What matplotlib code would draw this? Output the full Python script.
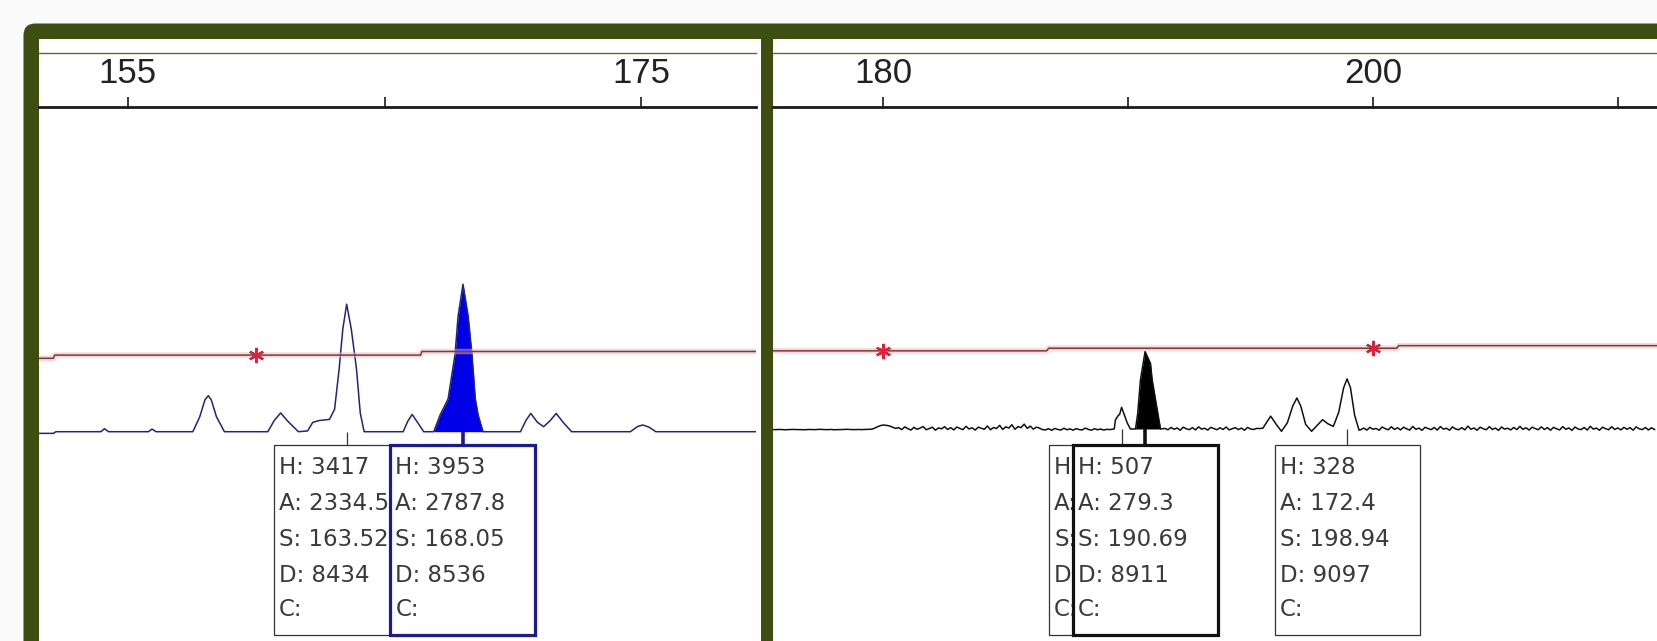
"""
Recreate the two-panel electropherogram view (peak scanner style):
left panel blue dye 151-179 bp, right panel black dye 175-212 bp,
with allele call boxes under the called peaks.
"""

import numpy as np
import matplotlib
matplotlib.use("Agg")
import matplotlib.pyplot as plt
from matplotlib.patches import Rectangle, FancyBboxPatch
from matplotlib.lines import Line2D

W, H = 1657, 641

# ---------------- data (bp, RFU) ----------------
LEFT_XLIM = (151.54, 179.46)
LEFT_TICKS = [155, 165, 175]
LEFT_TICK_LABELS = ["155", "", "175"]

LEFT_TRACE_BP = [151.54, 152.1, 152.2, 153.95, 154.09, 154.25, 155.8, 155.94, 156.1,
                 157.53, 157.8, 158.0, 158.13, 158.25, 158.45, 158.76,
                 160.45, 160.7, 160.95, 161.2, 161.64, 162.0, 162.2, 162.45, 162.85,
                 163.05, 163.23, 163.37, 163.52, 163.7, 163.9, 164.05, 164.2,
                 165.72, 165.9, 166.07, 166.25, 166.52,
                 166.91, 167.16, 167.47, 167.74, 167.86, 168.05, 168.25, 168.40, 168.53, 168.64, 168.83,
                 170.29, 170.5, 170.69, 170.95, 171.19, 171.45, 171.68, 171.95, 172.28,
                 174.57, 174.85, 175.05, 175.3, 175.56, 179.46]
LEFT_TRACE_RFU = [-45, -45, 0, 0, 80, 0, 0, 70, 0,
                  0, 400, 850, 966, 850, 400, 0,
                  0, 300, 504, 300, 0, 20, 250, 300, 330,
                  600, 1700, 2750, 3417, 2750, 1700, 500, 0,
                  0, 280, 462, 280, 0,
                  0, 450, 880, 2070, 3100, 3953, 3100, 2070, 880, 450, 0,
                  0, 300, 490, 250, 134, 300, 490, 250, 0,
                  0, 140, 180, 120, 0, 0]
LEFT_FILL_RANGE = (166.91, 168.83)

LEFT_RED_BP = [151.54, 152.1, 152.15, 166.4, 166.45, 179.46]
LEFT_RED_RFU = [1967, 1967, 2053, 2053, 2150, 2150]
LEFT_STARS_BP = [160]
LEFT_STARS_RFU = [2053]

# called peaks, left panel
LEFT_CALL_S = [163.52, 168.05]
LEFT_CALL_H = ["3417", "3953"]
LEFT_CALL_A = ["2334.5", "2787.8"]
LEFT_CALL_D = ["8434", "8536"]
LEFT_CALL_SEL = [False, True]

RIGHT_XLIM = (175.48, 211.6)
RIGHT_TICKS = [180, 190, 200, 210]
RIGHT_TICK_LABELS = ["180", "", "200", ""]

# baseline wiggle of the black trace, one value every NOISE_STEP bp
NOISE_STEP = 0.125
RIGHT_NOISE_A_START = 175.5
RIGHT_NOISE_A = [-4, -4, -3, -4, -5, -4, -3, -3, -4, -4, -5, -4, -3, -4, -4, -2, -3, -4, -4, -3,
                 -5, -4, -4, -3, -2, -3, -4, -4, -3, -4, -3, -2, -2,
                 4, 14, 22, 26, 24, 20, 12, 4,
                 9, -4, 14, 2, -7, 11, -2, 6, 16, -5, 3, 12, -8, 7, 1, 15, -3, 9, -6, 13,
                 4, -4, 18, 0, 8, -7, 12, 5, -2, 20, -5, 10, 3, 24, -3, 14, 6, 28, -2, 16,
                 9, 32, 4, 19, -1, 12, 6, -4,
                 -6, 2, -9, 4, -3, -7, 5, -5, 1, -8, 3, -4, -6, 6, -3, -8, 2, -5, 0, -7, -2, -4]
RIGHT_PEAKS_BP = [189.43, 189.48, 189.6, 189.65, 189.73, 189.85, 189.96, 190.09,
                  190.3, 190.39, 190.5, 190.61, 190.69, 190.91, 190.98, 191.21, 191.32]
RIGHT_PEAKS_RFU = [0, 60, 90, 95, 142, 90, 40, 0,
                   0, 103, 321, 430, 507, 430, 321, 103, 0]
RIGHT_NOISE_B_START = 191.5
RIGHT_NOISE_B = [4, -5, 10, -2, 7, -8, 12, 1, -4, 9, -6, 14, -1, 5, -7, 11, 3, -5, 8, -3,
                 13, -6, 2, 9, -4, 6, -8, 10, 0, -3, 4]
RIGHT_BUMPS_BP = [195.35, 195.5, 195.82, 196.05, 196.26, 196.5, 196.72, 196.89, 197.05, 197.25,
                  197.49, 197.7, 197.94, 198.15, 198.38, 198.6, 198.8, 198.94, 199.08, 199.25, 199.43]
RIGHT_BUMPS_RFU = [3, 5, 84, 30, -15, 40, 150, 203, 150, 30,
                   -15, 20, 61, 35, 17, 110, 270, 328, 270, 90, -8]
RIGHT_NOISE_C_START = 199.5
RIGHT_NOISE_C = [-4, 6, -7, 11, -2, 4, -8, 13, 2, -5, 15, -3, 8, -6, 12, 1, -7, 17, -2, 6,
                 -9, 11, 3, -4, 10, -7, 16, -1, 5, -8, 14, 0, -5, 9, -6, 19, -2, 7, -8, 12,
                 2, -5, 15, -3, 6, -9, 13, -1, 5, -6, 10, -4, 17, -2, 8, -7, 12, 3, -5, 14,
                 -3, 9, -8, 11, 1, -6, 16, -2, 7, -9, 13, 0, -4, 10, -7, 18, -1, 6, -8, 12,
                 2, -5, 15, -3, 7, -6, 11, -2, 9, -8, 14, 1, -4, 10, -6, 8, -3]
RIGHT_FILL_RANGE = (190.3, 191.32)

RIGHT_RED_BP = [175.48, 186.67, 186.75, 200.97, 201.05, 211.6]
RIGHT_RED_RFU = [512, 512, 529, 529, 546, 546]
RIGHT_STARS_BP = [180, 200]
RIGHT_STARS_RFU = [512, 529]

# called peaks, right panel (first box is mostly hidden behind the second)
RIGHT_CALL_S = [189.73, 190.69, 198.94]
RIGHT_CALL_H = ["", "507", "328"]
RIGHT_CALL_A = ["", "279.3", "172.4"]
RIGHT_CALL_D = ["", "8911", "9097"]
RIGHT_CALL_SEL = [False, True, False]

# ---------------- layout (pixels of the 1657x641 picture) ----------------
GREEN = "#3e4e10"
AX_TOP_PX = 106.5
LEFT_PX = (39, 756)
RIGHT_PX = (772.7, 1657)
LEFT_BASE_PX, LEFT_RFU_PER_PX = 431.7, 26.8
RIGHT_BASE_PX, RIGHT_RFU_PER_PX = 429.0, 6.55
BOX_W_PX = 145
BOX_TOP_PX, BOX_BOT_PX = 445.0, 635.0
LINE_PX = [468, 503, 539, 575, 610]
TEXT_PAD_PX = 5


def ax_frac(py):
    return (H - py) / (H - AX_TOP_PX)


def right_trace():
    xs, ys = [], []
    segments = [
        (RIGHT_NOISE_A_START + NOISE_STEP * np.arange(len(RIGHT_NOISE_A)), RIGHT_NOISE_A),
        (np.array(RIGHT_PEAKS_BP), RIGHT_PEAKS_RFU),
        (RIGHT_NOISE_B_START + NOISE_STEP * np.arange(len(RIGHT_NOISE_B)), RIGHT_NOISE_B),
        (np.array(RIGHT_BUMPS_BP), RIGHT_BUMPS_RFU),
        (RIGHT_NOISE_C_START + NOISE_STEP * np.arange(len(RIGHT_NOISE_C)), RIGHT_NOISE_C),
    ]
    for x, y in segments:
        assert len(x) == len(y)
        xs.append(np.asarray(x, float))
        ys.append(np.asarray(y, float))
    return np.concatenate(xs), np.concatenate(ys)


def setup_axes(ax, xlim, ticks, labels, base_px, rfu_per_px):
    ax.set_xlim(*xlim)
    ax.set_ylim(-(H - base_px) * rfu_per_px, (base_px - AX_TOP_PX) * rfu_per_px)
    ax.patch.set_alpha(0)
    for side in ("left", "right", "bottom"):
        ax.spines[side].set_visible(False)
    ax.spines["top"].set_linewidth(2.0)
    ax.spines["top"].set_color("#1a1a1a")
    ax.xaxis.tick_top()
    ax.set_xticks(ticks)
    ax.set_xticklabels(labels, fontsize=25, color="#222222", fontfamily="Liberation Sans")
    ax.tick_params(axis="x", direction="out", length=7, width=1.2, pad=5,
                   color="#1a1a1a", top=True, bottom=False)
    ax.set_yticks([])


def draw_red(ax, bp, rfu, sbp, srfu):
    ax.plot(bp, rfu, color="#f2b4b4", lw=4.0, alpha=0.5, zorder=3, solid_capstyle="butt")
    ax.plot(bp, rfu, color="#7e3838", lw=1.1, zorder=4)
    ax.plot(sbp, srfu, ls="none", marker=(6, 2, 0), ms=11, mew=1.6,
            color="#e0203a", zorder=5)


def draw_calls(ax, s_list, h_list, a_list, d_list, sel_list, sel_color, px_w):
    px_per_bp = px_w / (ax.get_xlim()[1] - ax.get_xlim()[0])
    w = BOX_W_PX / px_per_bp
    pad = TEXT_PAD_PX / px_per_bp
    tr = ax.get_xaxis_transform()
    top, bot = ax_frac(BOX_TOP_PX), ax_frac(BOX_BOT_PX)
    y0, y1 = ax.get_ylim()
    base = (0 - y0) / (y1 - y0)
    for i, (s, h, a, d, sel) in enumerate(zip(s_list, h_list, a_list, d_list, sel_list)):
        z = 6 + 2 * i
        edge = sel_color if sel else "#333333"
        ax.add_patch(Rectangle((s - w / 2, bot), w, top - bot, transform=tr, fc="white",
                               ec=edge, lw=2.3 if sel else 0.9, zorder=z))
        ax.plot([s, s], [base, top], transform=tr, color=edge,
                lw=2.6 if sel else 0.9, zorder=z, solid_capstyle="butt")
        if h:
            lines = [f"H: {h}", f"A: {a}", f"S: {s:.2f}", f"D: {d}", "C:"]
        else:
            lines = ["H:", "A:", "S:", "D:", "C:"]
        for py, txt in zip(LINE_PX, lines):
            ax.text(s - w / 2 + pad, ax_frac(py), txt, transform=tr, va="center", ha="left",
                    fontsize=16.5, color="#3a3a3a", fontfamily="DejaVu Sans",
                    zorder=z + 0.5, clip_on=True)


def main():
    fig = plt.figure(figsize=(W / 100, H / 100), dpi=100, facecolor="#fafafa")

    # olive frame with a rounded top-left corner, white panel interiors
    fig.add_artist(FancyBboxPatch((23.5, -40), 1700, H - 23.5 + 40,
                                  boxstyle="round,pad=0,rounding_size=12",
                                  fc=GREEN, ec="none", transform=None, zorder=-3))
    for x0, x1 in (LEFT_PX, RIGHT_PX):
        fig.add_artist(Rectangle((x0, -10), x1 - x0 + 5, H - 39 + 10, fc="white",
                                 ec="none", transform=None, zorder=-2))
        fig.add_artist(Line2D([x0, x1], [H - 52.5, H - 52.5], color="#5f6e2c",
                              lw=1.0, transform=None, zorder=-1))

    axL = fig.add_axes([LEFT_PX[0] / W, 0, (LEFT_PX[1] - LEFT_PX[0]) / W, 1 - AX_TOP_PX / H])
    axR = fig.add_axes([RIGHT_PX[0] / W, 0, (RIGHT_PX[1] - RIGHT_PX[0]) / W, 1 - AX_TOP_PX / H])
    setup_axes(axL, LEFT_XLIM, LEFT_TICKS, LEFT_TICK_LABELS, LEFT_BASE_PX, LEFT_RFU_PER_PX)
    setup_axes(axR, RIGHT_XLIM, RIGHT_TICKS, RIGHT_TICK_LABELS, RIGHT_BASE_PX, RIGHT_RFU_PER_PX)

    # left trace + filled called peak
    lx, ly = np.array(LEFT_TRACE_BP), np.array(LEFT_TRACE_RFU, float)
    assert len(lx) == len(ly)
    m = (lx >= LEFT_FILL_RANGE[0]) & (lx <= LEFT_FILL_RANGE[1])
    axL.fill_between(lx[m], 0, ly[m], color="#0000e6", lw=0, zorder=2)
    axL.plot(lx, ly, color="#23237a", lw=1.1, zorder=2.5)
    draw_red(axL, LEFT_RED_BP, LEFT_RED_RFU, LEFT_STARS_BP, LEFT_STARS_RFU)
    draw_calls(axL, LEFT_CALL_S, LEFT_CALL_H, LEFT_CALL_A, LEFT_CALL_D, LEFT_CALL_SEL,
               "#1a1a96", LEFT_PX[1] - LEFT_PX[0])

    # right trace + filled called peak
    rx, ry = right_trace()
    m = (rx >= RIGHT_FILL_RANGE[0]) & (rx <= RIGHT_FILL_RANGE[1])
    axR.fill_between(rx[m], 0, ry[m], color="#000000", lw=0, zorder=2)
    axR.plot(rx, ry, color="#111111", lw=1.1, zorder=2.5)
    draw_red(axR, RIGHT_RED_BP, RIGHT_RED_RFU, RIGHT_STARS_BP, RIGHT_STARS_RFU)
    draw_calls(axR, RIGHT_CALL_S, RIGHT_CALL_H, RIGHT_CALL_A, RIGHT_CALL_D, RIGHT_CALL_SEL,
               "#111111", RIGHT_PX[1] - RIGHT_PX[0])

    fig.savefig("out.png", dpi=100, facecolor=fig.get_facecolor())


if __name__ == "__main__":
    main()
